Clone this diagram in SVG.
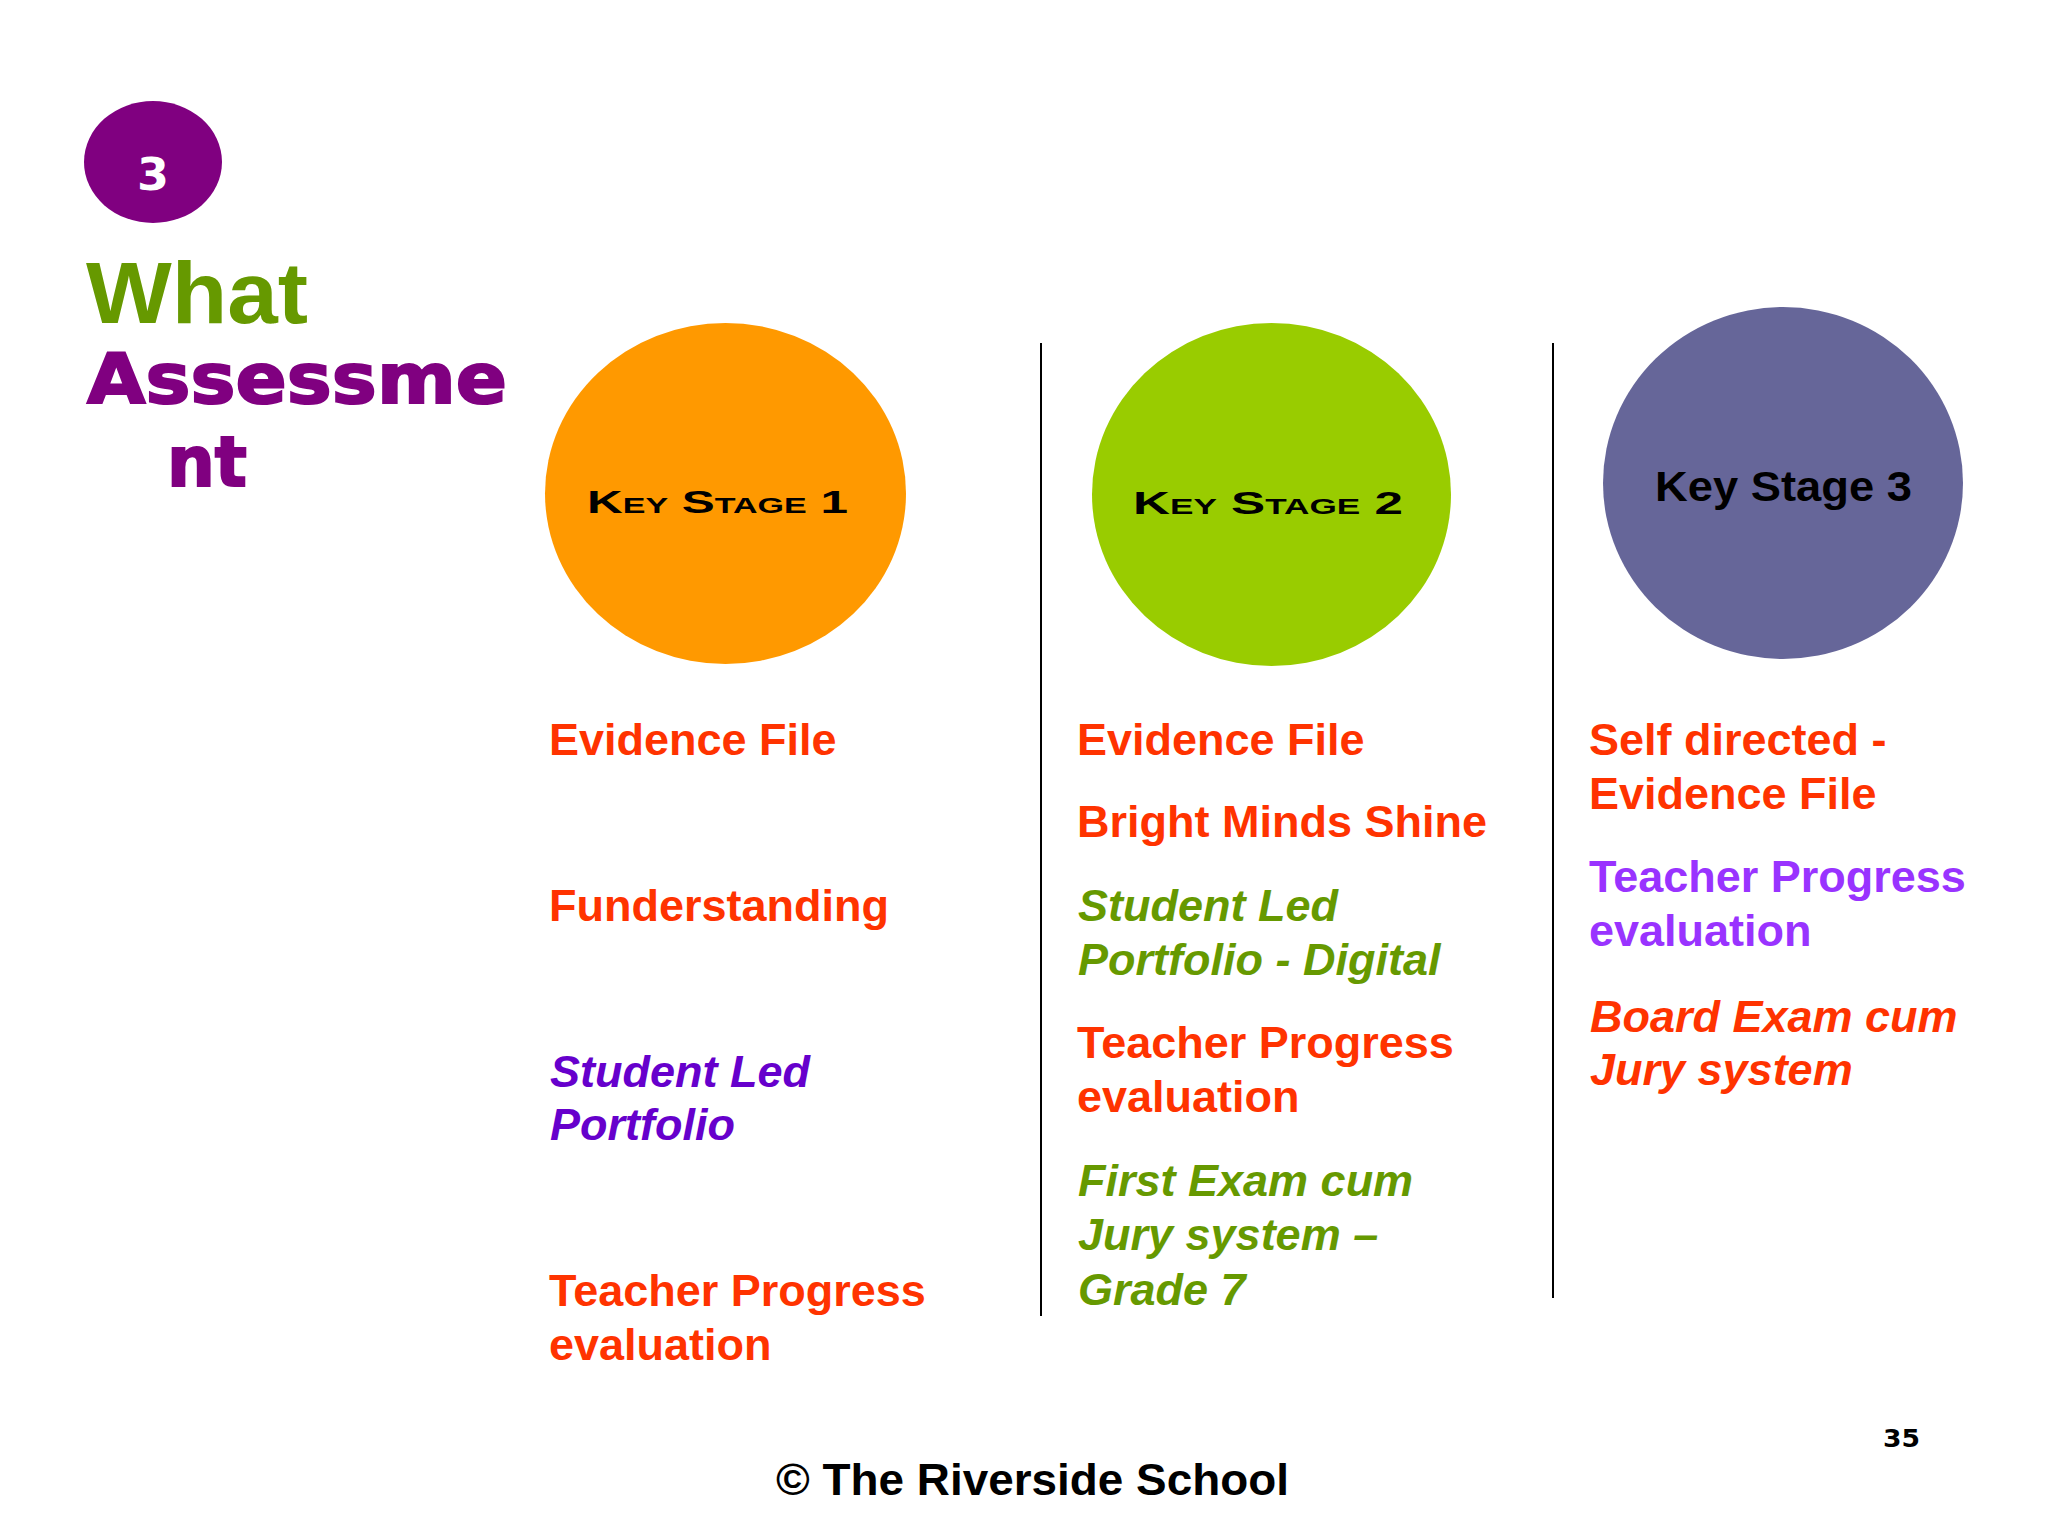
<svg xmlns="http://www.w3.org/2000/svg" width="2048" height="1536" viewBox="0 0 2048 1536">
<style>
.t{font-family:"Liberation Sans",Arial,sans-serif;font-weight:bold;font-size:45px}
.i{font-style:italic}
.red{fill:#FF3300}
.grn{fill:#669900}
.pur{fill:#6600CC}
.vio{fill:#9933FF}
.ks{font-family:"Liberation Sans",Arial,sans-serif;font-weight:bold;font-variant:small-caps;font-size:32px;fill:#000}
.sep{stroke:#000;stroke-width:2}
</style>
<rect width="2048" height="1536" fill="#ffffff"/>
<g id="badge">
<ellipse cx="153" cy="162" rx="69" ry="61" fill="#800080"/>
<text x="137" y="190" font-family="DejaVu Sans,sans-serif" font-weight="bold" font-size="44" fill="#fff" textLength="32" lengthAdjust="spacingAndGlyphs">3</text>
</g>
<g id="title">
<text x="86" y="323" font-family="Liberation Sans,Arial,sans-serif" font-weight="bold" font-size="88" fill="#669900" textLength="222" lengthAdjust="spacingAndGlyphs">What</text>
<text x="87" y="403" font-family="DejaVu Sans,sans-serif" font-weight="bold" font-size="70" fill="#800080" stroke="#800080" stroke-width="2" textLength="420" lengthAdjust="spacingAndGlyphs">Assessme</text>
<text x="167" y="486" font-family="DejaVu Sans,sans-serif" font-weight="bold" font-size="70" fill="#800080" stroke="#800080" stroke-width="2" textLength="80" lengthAdjust="spacingAndGlyphs">nt</text>
</g>
<g id="connectors">
<line class="sep" x1="1041" y1="343" x2="1041" y2="1316"/>
<line class="sep" x1="1553" y1="343" x2="1553" y2="1298"/>
</g>
<g id="ks1">
<ellipse cx="725.5" cy="493.5" rx="180.5" ry="170.5" fill="#FF9900"/>
<text class="ks" x="587" y="513" textLength="261" lengthAdjust="spacingAndGlyphs">Key Stage 1</text>
</g>
<g id="ks2">
<ellipse cx="1271.5" cy="494.5" rx="179.5" ry="171.5" fill="#99CC00"/>
<text class="ks" x="1133" y="514" textLength="270" lengthAdjust="spacingAndGlyphs">Key Stage 2</text>
</g>
<g id="ks3">
<ellipse cx="1783" cy="483" rx="180" ry="176" fill="#666699"/>
<text x="1655" y="501" font-family="Liberation Sans,Arial,sans-serif" font-weight="bold" font-size="43" fill="#000" textLength="257" lengthAdjust="spacingAndGlyphs">Key Stage 3</text>
</g>
<g id="col1">
<text class="t red" x="549" y="755">Evidence File</text>
<text class="t red" x="549" y="921">Funderstanding</text>
<text class="t i pur" x="550" y="1087">Student Led</text>
<text class="t i pur" x="550" y="1140">Portfolio</text>
<text class="t red" x="549" y="1306">Teacher Progress</text>
<text class="t red" x="549" y="1360">evaluation</text>
</g>
<g id="col2">
<text class="t red" x="1077" y="755">Evidence File</text>
<text class="t red" x="1077" y="837">Bright Minds Shine</text>
<text class="t i grn" x="1078" y="921">Student Led</text>
<text class="t i grn" x="1078" y="975">Portfolio - Digital</text>
<text class="t red" x="1077" y="1058">Teacher Progress</text>
<text class="t red" x="1077" y="1112">evaluation</text>
<text class="t i grn" x="1078" y="1196">First Exam cum</text>
<text class="t i grn" x="1078" y="1250">Jury system –</text>
<text class="t i grn" x="1078" y="1305">Grade 7</text>
</g>
<g id="col3">
<text class="t red" x="1589" y="755">Self directed -</text>
<text class="t red" x="1589" y="809">Evidence File</text>
<text class="t vio" x="1589" y="892">Teacher Progress</text>
<text class="t vio" x="1589" y="946">evaluation</text>
<text class="t i red" x="1590" y="1032">Board Exam cum</text>
<text class="t i red" x="1590" y="1085">Jury system</text>
</g>
<g id="footer">
<text x="776" y="1495" font-family="Liberation Sans,Arial,sans-serif" font-weight="bold" font-size="44" fill="#000" textLength="513" lengthAdjust="spacingAndGlyphs">© The Riverside School</text>
<text x="1883" y="1447" font-family="DejaVu Sans,sans-serif" font-weight="bold" font-size="25" fill="#000" textLength="37" lengthAdjust="spacingAndGlyphs">35</text>
</g>
</svg>
